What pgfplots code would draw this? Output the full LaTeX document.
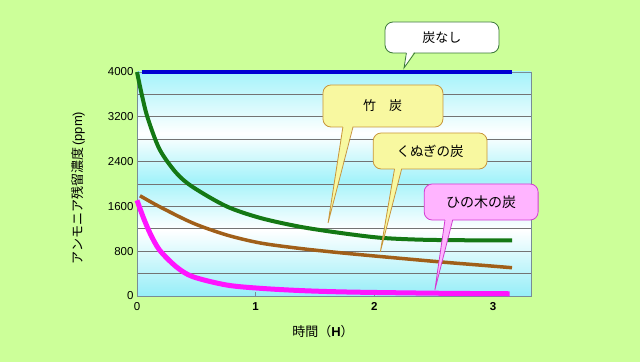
\documentclass[border=0pt]{standalone}
\usepackage{pgfplots}
\pgfplotsset{compat=1.18}
\usepackage{fontspec}
\setmainfont{Liberation Sans}
\newfontfamily\jp{Noto Sans CJK JP}
\definecolor{bgg}{RGB}{204,255,153}
\definecolor{cyA}{RGB}{165,243,250}
\definecolor{cyB}{RGB}{150,238,248}
\definecolor{gridc}{RGB}{115,115,115}
\definecolor{axc}{RGB}{120,140,150}
\definecolor{blueL}{RGB}{0,0,210}
\definecolor{greenL}{RGB}{20,120,20}
\definecolor{brownL}{RGB}{160,95,25}
\definecolor{magL}{RGB}{255,20,255}
\definecolor{yelF}{RGB}{248,248,160}
\definecolor{yelD}{RGB}{200,150,60}
\definecolor{pinkF}{RGB}{255,180,255}
\definecolor{pinkD}{RGB}{210,60,210}
\definecolor{whD}{RGB}{60,120,60}
\pgfdeclareverticalshading{plotbg}{100bp}{color(0bp)=(cyB); color(25bp)=(cyB); color(39.75bp)=(white); color(50.9bp)=(cyA); color(61.25bp)=(white); color(75bp)=(cyA); color(100bp)=(cyA)}
\begin{document}
\begin{tikzpicture}
\useasboundingbox (0pt,0pt) rectangle (640pt,362pt);
\fill[bgg] (0pt,0pt) rectangle (640pt,362pt);
\begin{axis}[
  at={(137pt,66pt)}, anchor=south west, scale only axis,
  width=394pt, height=224pt,
  xmin=0, xmax=3.32, ymin=0, ymax=4000,
  clip=false,
  axis background/.style={shading=plotbg},
  axis line style={draw=axc, line width=0.8pt},
  ytick={0,800,...,4000},
  minor ytick={400,1200,2000,2800,3600},
  ymajorgrids, yminorgrids,
  major grid style={gridc, line width=0.8pt},
  minor grid style={gridc, line width=0.8pt},
  ytick style={draw=none}, minor tick style={draw=none},
  xtick={0,1,2,3}, xticklabels={0,\textbf{1},\textbf{2},\textbf{3}},
  xtick style={draw=axc, line width=0.6pt},
  tick align=inside, major tick length=4pt, tick pos=left,
  ticklabel style={font=\fontsize{11.5}{12}\selectfont, black},
  x tick label style={yshift=-3pt},
  /pgf/number format/assume math mode=true,
  scaled y ticks=false,
  y tick label style={/pgf/number format/1000 sep={}},
]
\addplot[blueL, line width=4pt] coordinates {(0.04,4000) (3.16,4000)};
\addplot[greenL, line width=4pt, smooth] coordinates {
(0,4000)(0.04,3600)(0.09,3180)(0.19,2620)(0.33,2200)(0.47,1946)(0.755,1600)(1.04,1393)(1.37,1238)(1.7,1130)(2.05,1040)(2.4,1005)(2.8,995)(3.16,995)};
\addplot[brownL, line width=3.5pt, smooth] coordinates {
(0.025,1790)(0.19,1595)(0.47,1303)(0.755,1090)(1.04,946)(1.37,850)(1.7,775)(2.05,705)(2.55,610)(2.9,550)(3.16,505)};
\addplot[magL, line width=5pt, smooth] coordinates {
(0,1710)(0.05,1420)(0.11,1120)(0.19,820)(0.33,523)(0.47,345)(0.755,196)(1.04,137)(1.4,95)(1.8,70)(2.5,50)(3.14,40)};
% callout: 炭なし
\draw[whD, fill=white, line width=0.8pt, rounded corners=8pt] (axis cs:2.09,4340) rectangle (axis cs:3.05,4893);
\fill[white] (axis cs:2.272,4400) -- (axis cs:2.25,4072) -- (axis cs:2.345,4400) -- cycle;
\draw[whD, line width=0.8pt] (axis cs:2.27,4340) -- (axis cs:2.25,4072) -- (axis cs:2.34,4340);
\node[font=\jp\fontsize{13}{14}\selectfont] at (axis cs:2.57,4616) {炭なし};
% callout: 竹炭
\draw[yelD, fill=yelF, line width=0.8pt, rounded corners=8pt] (axis cs:1.567,3018) rectangle (axis cs:2.578,3768);
\fill[yelF] (axis cs:1.738,3090) -- (axis cs:1.61,1304) -- (axis cs:1.824,3090) -- cycle;
\draw[yelD, line width=0.8pt] (axis cs:1.735,3018) -- (axis cs:1.61,1304) -- (axis cs:1.82,3018);
\node[font=\jp\fontsize{13}{14}\selectfont] at (axis cs:2.07,3393) {竹　炭};
% callout: くぬぎの炭
\draw[yelD, fill=yelF, line width=0.8pt, rounded corners=8pt] (axis cs:1.99,2268) rectangle (axis cs:2.95,2911);
\fill[yelF] (axis cs:2.175,2340) -- (axis cs:2.05,786) -- (axis cs:2.235,2340) -- cycle;
\draw[yelD, line width=0.8pt] (axis cs:2.17,2268) -- (axis cs:2.05,786) -- (axis cs:2.23,2268);
\node[font=\jp\fontsize{13.5}{14}\selectfont] at (axis cs:2.47,2590) {くぬぎの炭};
% callout: ひの木の炭
\draw[pinkD, fill=pinkF, line width=0.8pt, rounded corners=8pt] (axis cs:2.42,1357) rectangle (axis cs:3.38,2000);
\fill[pinkF] (axis cs:2.6,1430) -- (axis cs:2.51,107) -- (axis cs:2.665,1430) -- cycle;
\draw[pinkD, line width=0.8pt] (axis cs:2.595,1357) -- (axis cs:2.51,107) -- (axis cs:2.66,1357);
\node[font=\jp\fontsize{14}{15}\selectfont] at (axis cs:2.90,1679) {ひの木の炭};
\end{axis}
\node[rotate=90, font=\fontsize{13}{14}\selectfont] at (78pt,174pt) {{\jp アンモニア残留濃度}\,(ppm)};
\node[font=\fontsize{13}{14}\selectfont] at (323pt,30pt) {{\jp 時間（}\textbf{H}{\jp ）}};
\end{tikzpicture}
\end{document}
